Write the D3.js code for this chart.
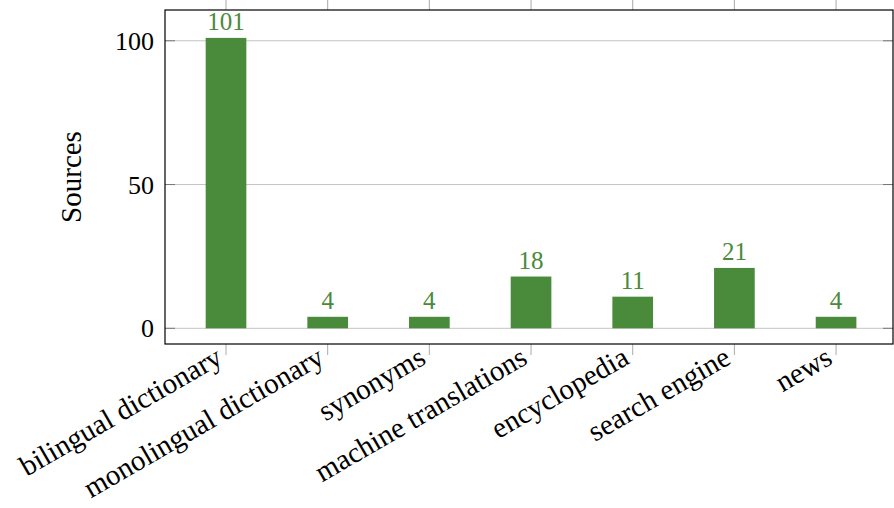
<!DOCTYPE html>
<html>
<head>
<meta charset="utf-8">
<script src="https://cdn.jsdelivr.net/npm/d3@7"></script>
<style>
  body { margin: 0; background: #fff; }
  text { font-family: "Liberation Serif", "DejaVu Serif", serif; }
</style>
</head>
<body>
<div id="chart"></div>
<script>
// Data
const categories = ["bilingual dictionary", "monolingual dictionary", "synonyms",
  "machine translations", "encyclopedia", "search engine", "news"];
const values = [101, 4, 4, 18, 11, 21, 4];
const yTicks = [0, 50, 100];

const width = 894, height = 508;
const margin = { top: 10, right: 1, bottom: 164, left: 165 };
const green = "#4a8a3b";

const svg = d3.select("#chart").append("svg")
  .attr("width", width)
  .attr("height", height);

// index-based x scale so the outer padding matches the frame
const x = d3.scaleLinear()
  .domain([-0.6, categories.length - 1 + 0.56])
  .range([margin.left, width - margin.right]);

const y = d3.scaleLinear()
  .domain([-5.46, 110.7])
  .range([height - margin.bottom, margin.top]);

const step = x(1) - x(0);
const barW = step * 0.4;
const x0 = margin.left, x1 = width - margin.right;
const yTop = margin.top, yBot = height - margin.bottom;

// Horizontal grid lines
svg.append("g")
  .selectAll("line")
  .data(yTicks)
  .enter().append("line")
  .attr("x1", x0).attr("x2", x1)
  .attr("y1", d => y(d)).attr("y2", d => y(d))
  .attr("stroke", "#c4c4c4")
  .attr("stroke-width", 1);

// Bars
svg.append("g")
  .selectAll("rect")
  .data(values)
  .enter().append("rect")
  .attr("x", (d, i) => x(i) - barW / 2)
  .attr("y", d => y(d))
  .attr("width", barW)
  .attr("height", d => y(0) - y(d))
  .attr("fill", green);

// Value labels above bars
svg.append("g")
  .selectAll("text")
  .data(values)
  .enter().append("text")
  .attr("x", (d, i) => x(i))
  .attr("y", d => y(d) - 8)
  .attr("text-anchor", "middle")
  .attr("fill", green)
  .style("font-size", "25px")
  .text(d => d);

// y tick marks, inside on both sides
yTicks.forEach(t => {
  svg.append("line")
    .attr("x1", x0).attr("x2", x0 + 10)
    .attr("y1", y(t)).attr("y2", y(t))
    .attr("stroke", "#777");
  svg.append("line")
    .attr("x1", x1 - 10).attr("x2", x1)
    .attr("y1", y(t)).attr("y2", y(t))
    .attr("stroke", "#777");
});

// x tick marks, outside at top and bottom
categories.forEach((c, i) => {
  svg.append("line")
    .attr("x1", x(i)).attr("x2", x(i))
    .attr("y1", yTop).attr("y2", yTop - 11)
    .attr("stroke", "#aaa");
  svg.append("line")
    .attr("x1", x(i)).attr("x2", x(i))
    .attr("y1", yBot).attr("y2", yBot + 11)
    .attr("stroke", "#aaa");
});

// Frame
svg.append("rect")
  .attr("x", x0).attr("y", yTop)
  .attr("width", x1 - x0).attr("height", yBot - yTop)
  .attr("fill", "none")
  .attr("stroke", "#000")
  .attr("stroke-width", 1.2);

// y tick labels
svg.append("g")
  .selectAll("text")
  .data(yTicks)
  .enter().append("text")
  .attr("x", x0 - 11)
  .attr("y", d => y(d))
  .attr("dy", "0.35em")
  .attr("text-anchor", "end")
  .style("font-size", "26px")
  .text(d => d);

// Rotated category labels
svg.append("g")
  .selectAll("text")
  .data(categories)
  .enter().append("text")
  .attr("transform", (d, i) => `translate(${x(i) - 7},${yBot + 10}) rotate(-30)`)
  .attr("text-anchor", "end")
  .attr("dy", "0.35em")
  .style("font-size", "29px")
  .text(d => d);

// y axis label
svg.append("text")
  .attr("transform", `translate(81,${(yTop + yBot) / 2}) rotate(-90)`)
  .attr("text-anchor", "middle")
  .style("font-size", "29px")
  .text("Sources");
</script>
</body>
</html>
